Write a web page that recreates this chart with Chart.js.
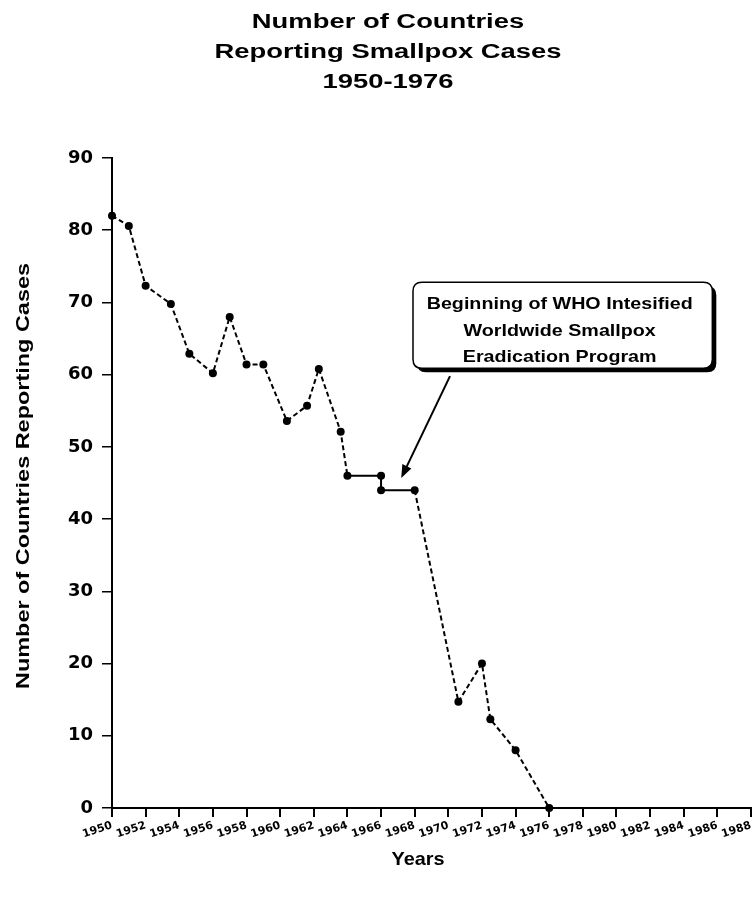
<!DOCTYPE html>
<html>
<head>
<meta charset="utf-8">
<script src="https://cdn.jsdelivr.net/npm/chart.js@4.4.1/dist/chart.umd.min.js"></script>
<style>
  html, body { margin: 0; padding: 0; background: #fff; }
  canvas { display: block; }
</style>
</head>
<body>
<canvas id="c" width="755" height="901"></canvas>
<script>
// ---- data ----
const years  = [1950, 1951, 1952, 1953.5, 1954.6, 1956, 1957, 1958, 1959, 1960.4, 1961.6, 1962.3, 1963.6, 1964, 1966, 1966, 1968, 1970.6, 1972, 1972.5, 1974, 1976];
const counts = [82, 80.6, 72.3, 69.8, 62.9, 60.2, 68, 61.4, 61.4, 53.6, 55.7, 60.8, 52.1, 46, 46, 44, 44, 14.7, 20, 12.3, 8, 0];
const solidSegments = [13, 14, 15];           // segments drawn as solid lines
const xTicks = [1950,1952,1954,1956,1958,1960,1962,1964,1966,1968,1970,1972,1974,1976,1978,1980,1982,1984,1986,1988];
const yTicks = [0,10,20,30,40,50,60,70,80,90];
const titleLines = ['Number of Countries', 'Reporting Smallpox Cases', '1950-1976'];
const yTitle = 'Number of Countries Reporting Cases';
const xTitle = 'Years';
const noteLines = ['Beginning of WHO Intesified', 'Worldwide Smallpox', 'Eradication Program'];

// annotation placement in data coordinates
const noteBox = { x0: 1967.9, x1: 1985.7, y0: 72.8, y1: 60.9 };
const noteArrow = { fromX: 1970.1, fromY: 59.8, toX: 1967.2, toY: 45.7 };

const FONT = "'DejaVu Sans', 'Liberation Sans', sans-serif";
const TFONT = "'Liberation Sans', Arial, sans-serif";

function stretchedText(ctx, lines, cx, baselines, font, refIndex, refWidth, rot) {
  ctx.save();
  ctx.font = font;
  ctx.fillStyle = '#000';
  ctx.textAlign = 'center';
  ctx.textBaseline = 'alphabetic';
  const k = refWidth / ctx.measureText(lines[refIndex]).width;
  lines.forEach((t, i) => {
    ctx.save();
    if (rot) {
      ctx.translate(baselines[i], cx);
      ctx.rotate(rot);
    } else {
      ctx.translate(cx, baselines[i]);
    }
    ctx.scale(k, 1);
    ctx.fillText(t, 0, 0);
    ctx.restore();
  });
  ctx.restore();
}

const overlay = {
  id: 'overlay',
  afterDraw(chart) {
    const ctx = chart.ctx;
    const xs = chart.scales.x, ys = chart.scales.y;

    // main title
    stretchedText(ctx, titleLines, 388, [28, 58, 88], `bold 19.5px ${TFONT}`, 1, 347);
    // y axis title (rotated)
    stretchedText(ctx, [yTitle], 476, [29], `bold 18.5px ${TFONT}`, 0, 426, -Math.PI / 2);
    // x axis title
    stretchedText(ctx, [xTitle], 418, [865], `bold 18.5px ${TFONT}`, 0, 53);

    // annotation box
    const bx0 = xs.getPixelForValue(noteBox.x0), bx1 = xs.getPixelForValue(noteBox.x1);
    const by0 = ys.getPixelForValue(noteBox.y0), by1 = ys.getPixelForValue(noteBox.y1);
    const r = 9;
    function rr(x0, y0, x1, y1) {
      ctx.beginPath();
      ctx.moveTo(x0 + r, y0);
      ctx.lineTo(x1 - r, y0);
      ctx.quadraticCurveTo(x1, y0, x1, y0 + r);
      ctx.lineTo(x1, y1 - r);
      ctx.quadraticCurveTo(x1, y1, x1 - r, y1);
      ctx.lineTo(x0 + r, y1);
      ctx.quadraticCurveTo(x0, y1, x0, y1 - r);
      ctx.lineTo(x0, y0 + r);
      ctx.quadraticCurveTo(x0, y0, x0 + r, y0);
      ctx.closePath();
    }
    ctx.save();
    rr(bx0 + 4, by0 + 4, bx1 + 4, by1 + 4);
    ctx.fillStyle = '#000';
    ctx.fill();
    rr(bx0, by0, bx1, by1);
    ctx.fillStyle = '#fff';
    ctx.fill();
    ctx.lineWidth = 1.5;
    ctx.strokeStyle = '#000';
    ctx.stroke();
    ctx.restore();

    const cx = (bx0 + bx1) / 2 - 3;
    stretchedText(ctx, noteLines, cx, [by0 + 27, by0 + 54, by0 + 79.5], `bold 16.5px ${TFONT}`, 0, 266);

    // arrow
    const ax0 = xs.getPixelForValue(noteArrow.fromX), ay0 = ys.getPixelForValue(noteArrow.fromY);
    const ax1 = xs.getPixelForValue(noteArrow.toX), ay1 = ys.getPixelForValue(noteArrow.toY);
    const ang = Math.atan2(ay1 - ay0, ax1 - ax0);
    const hl = 13, hw = 5;
    ctx.save();
    ctx.strokeStyle = '#000';
    ctx.fillStyle = '#000';
    ctx.lineWidth = 2;
    ctx.beginPath();
    ctx.moveTo(ax0, ay0);
    ctx.lineTo(ax1 - Math.cos(ang) * hl * 0.8, ay1 - Math.sin(ang) * hl * 0.8);
    ctx.stroke();
    ctx.beginPath();
    ctx.moveTo(ax1, ay1);
    ctx.lineTo(ax1 - Math.cos(ang) * hl - Math.sin(ang) * hw, ay1 - Math.sin(ang) * hl + Math.cos(ang) * hw);
    ctx.lineTo(ax1 - Math.cos(ang) * hl + Math.sin(ang) * hw, ay1 - Math.sin(ang) * hl - Math.cos(ang) * hw);
    ctx.closePath();
    ctx.fill();
    ctx.restore();
  }
};

new Chart(document.getElementById('c'), {
  type: 'scatter',
  data: {
    datasets: [{
      data: years.map((y, i) => ({ x: y, y: counts[i] })),
      showLine: true,
      borderColor: '#000',
      borderWidth: 2,
      borderDash: [5, 3],
      backgroundColor: '#000',
      pointBackgroundColor: '#000',
      pointBorderColor: '#000',
      pointRadius: 4,
      pointBorderWidth: 0,
      segment: {
        borderDash: c => solidSegments.includes(c.p0DataIndex) ? [] : [5, 3]
      },
      clip: false
    }]
  },
  options: {
    responsive: false,
    devicePixelRatio: 1,
    animation: false,
    layout: { padding: { top: 158, right: 3, bottom: 0, left: 0 } },
    plugins: {
      legend: { display: false },
      tooltip: { enabled: false },
      title: { display: false }
    },
    scales: {
      x: {
        type: 'linear',
        min: 1950,
        max: 1988,
        afterBuildTicks: s => { s.ticks = xTicks.map(v => ({ value: v })); },
        afterFit: s => { s.height = 93; s.paddingLeft = 0; s.paddingRight = 0; },
        ticks: {
          autoSkip: false,
          minRotation: 18,
          maxRotation: 18,
          padding: 2,
          color: '#000',
          font: { family: FONT, weight: 'bold', size: 11 },
          callback: v => String(v)
        },
        grid: { drawOnChartArea: false, drawTicks: true, tickLength: 9, color: '#000', lineWidth: 2 },
        border: { display: true, color: '#000', width: 2 }
      },
      y: {
        type: 'linear',
        min: 0,
        max: 90,
        afterBuildTicks: s => { s.ticks = yTicks.map(v => ({ value: v })); },
        afterFit: s => { s.width = 112; },
        ticks: {
          padding: 9,
          color: '#000',
          font: { family: FONT, weight: 'bold', size: 18 },
          callback: v => String(v)
        },
        grid: { drawOnChartArea: false, drawTicks: true, tickLength: 10, color: '#000', lineWidth: 1.5 },
        border: { display: true, color: '#000', width: 2 }
      }
    }
  },
  plugins: [overlay]
});
</script>
</body>
</html>
